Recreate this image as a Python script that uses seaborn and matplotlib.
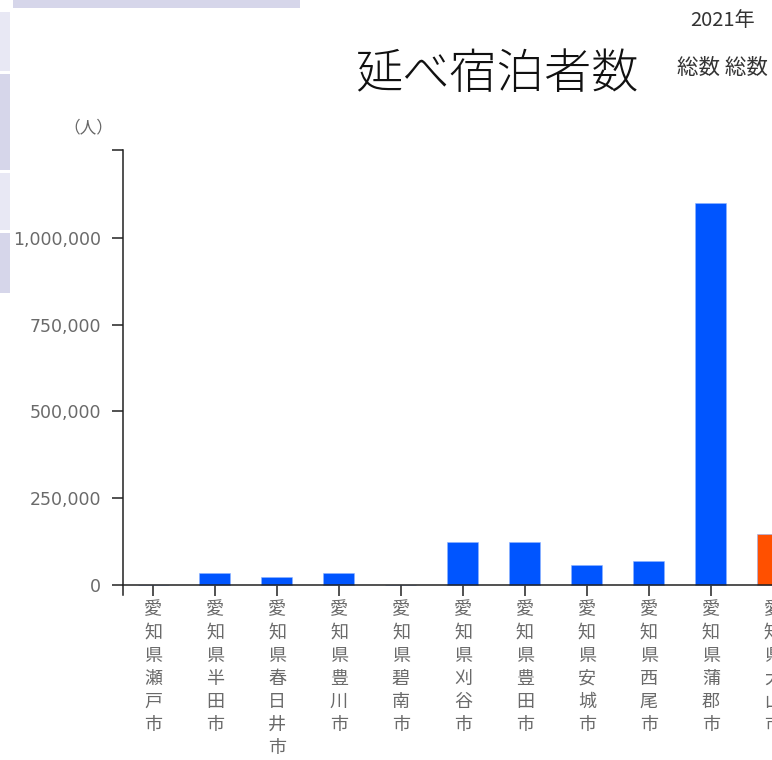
import numpy as np
import pandas as pd
import matplotlib
matplotlib.use("Agg")
import matplotlib.pyplot as plt
from matplotlib.patches import Rectangle
import seaborn as sns

# data
cities = ['愛知県瀬戸市', '愛知県半田市', '愛知県春日井市', '愛知県豊川市', '愛知県碧南市',
          '愛知県刈谷市', '愛知県豊田市', '愛知県安城市', '愛知県西尾市', '愛知県蒲郡市',
          '愛知県犬山市']
guests = [0, 35000, 22000, 35000, 0, 124000, 124000, 57500, 70500, 1100000, 147000]
bar_colors = ['#0055ff'] * 10 + ['#ff5000']
yticks = [0, 250000, 500000, 750000, 1000000]
ytop = 1253000

sns.set_theme(style='white')
plt.rcParams['font.family'] = ['Noto Sans CJK JP', 'DejaVu Sans']

W, H = 772, 760
fig = plt.figure(figsize=(W / 100, H / 100), dpi=100)

def px(x0, y0, x1, y1):
    # pixel box (top-left origin) -> figure coords
    return [x0 / W, 1 - y1 / H, (x1 - x0) / W, (y1 - y0) / H]

# decoration boxes of the page around the chart
for x0, y0, x1, y1, c in [(13, 0, 300, 8, '#d6d6ea'),
                          (0, 12, 10, 71, '#e8e8f4'),
                          (0, 74, 10, 170, '#d6d6ea'),
                          (0, 173, 10, 230, '#e8e8f4'),
                          (0, 233, 10, 293, '#d6d6ea')]:
    b = px(x0, y0, x1, y1)
    fig.add_artist(Rectangle((b[0], b[1]), b[2], b[3], transform=fig.transFigure,
                             facecolor=c, edgecolor='none'))

ybot = -28800
ax = fig.add_axes(px(123, 150, 807, 595))

df = pd.DataFrame({'city': cities, 'guests': guests})
sns.barplot(data=df, x='city', y='guests', hue='city', palette=bar_colors,
            width=0.5, legend=False, ax=ax, edgecolor='#8fb4ff', linewidth=0.4,
            saturation=1)

ax.set_xlim(-0.484, 10.55)
ax.set_ylim(ybot, ytop)

for s in ['top', 'right']:
    ax.spines[s].set_visible(False)
ax.spines['bottom'].set_position(('data', 0))
for s in ['left', 'bottom']:
    ax.spines[s].set_color('#222222')
    ax.spines[s].set_linewidth(1.1)

ax.set_yticks(yticks + [ytop])
ax.set_yticklabels([f'{v:,}' for v in yticks] + [''], family='DejaVu Sans',
                   fontsize=12.5, color='#6a6a6a')
ax.tick_params(axis='y', direction='out', length=8, width=1.1, color='#222222',
               pad=8, left=True)
ax.set_xticks(range(len(cities)))
ax.set_xticklabels(['\n'.join(c) for c in cities], fontsize=13, color='#6a6a6a',
                   linespacing=1.37, va='top')
ax.tick_params(axis='x', direction='out', length=8, width=1.1, color='#222222',
               pad=3, bottom=True)
ax.set_xlabel('')
ax.set_ylabel('')

fig.text(88 / W, 1 - 128 / H, '（人）', ha='center', va='center', fontsize=12,
         color='#666666')
fig.text(497 / W, 1 - 75 / H, '延べ宿泊者数', ha='center', va='center', fontsize=34,
         color='#111111', fontweight='light')
fig.text(723 / W, 1 - 20 / H, '2021年', ha='center', va='center', fontsize=14.5,
         color='#333333')
fig.text(677 / W, 1 - 68 / H, '総数 総数', ha='left', va='center', fontsize=15.5,
         color='#333333')

fig.savefig('out.png', dpi=100)
